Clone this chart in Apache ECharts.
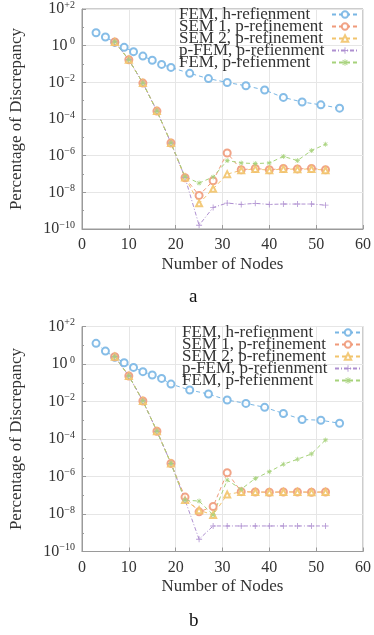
<!DOCTYPE html>
<html>
<head>
<meta charset="utf-8">
<script src="https://cdn.jsdelivr.net/npm/echarts@6/dist/echarts.min.js"></script>
<style>
  html, body { margin: 0; padding: 0; background: #fff; }
  #chart { width: 374px; height: 635px; }
</style>
</head>
<body>
<div id="chart"></div>
<script>
// x positions (number of nodes)
const nodesH = [3, 5, 7, 9, 11, 13, 15, 17, 19, 23, 27, 31, 35, 39, 43, 47, 51, 55];
const nodesP = [7, 10, 13, 16, 19, 22, 25, 28, 31, 34, 37, 40, 43, 46, 49, 52];

// panel a (percentage of discrepancy)
const femHA = [5.1, 2.98, 1.5, 0.81, 0.47, 0.27, 0.16, 0.095, 0.065, 0.031, 0.016, 0.0098, 0.0065, 0.0038, 0.0015, 8.5e-4, 5.9e-4, 3.9e-4];
const sem1A = [1.6, 0.17, 9.1e-3, 2.7e-4, 4.9e-6, 6.2e-8, 6.8e-9, 4.3e-8, 1.4e-6, 1.7e-7, 2.0e-7, 1.7e-7, 2.0e-7, 1.9e-7, 2.0e-7, 1.7e-7];
const sem2A = [1.6, 0.17, 9.1e-3, 2.7e-4, 4.9e-6, 6.5e-8, 2.5e-9, 1.55e-8, 9.8e-8, 1.6e-7, 1.9e-7, 1.6e-7, 1.9e-7, 1.8e-7, 1.9e-7, 1.6e-7];
const pfemA = [1.6, 0.17, 9.1e-3, 2.7e-4, 4.9e-6, 6.5e-8, 1.6e-10, 1.5e-9, 2.6e-9, 2.2e-9, 2.5e-9, 2.2e-9, 2.3e-9, 2.3e-9, 2.3e-9, 2.0e-9];
const femPA = [1.6, 0.17, 9.1e-3, 2.7e-4, 4.9e-6, 7.1e-8, 3.2e-8, 6.9e-8, 5.4e-7, 4.0e-7, 3.7e-7, 4.0e-7, 9.1e-7, 5.4e-7, 1.9e-6, 4.2e-6];

// panel b
const femHB = [12.6, 4.9, 2.3, 1.17, 0.66, 0.39, 0.26, 0.17, 0.085, 0.041, 0.025, 0.012, 0.0079, 0.0049, 0.0023, 0.0011, 0.001, 6.9e-4];
const sem1B = [2.45, 0.23, 0.0107, 2.6e-4, 5.0e-6, 8.0e-8, 1.3e-8, 2.5e-8, 1.6e-6, 1.55e-7, 1.5e-7, 1.45e-7, 1.5e-7, 1.5e-7, 1.45e-7, 1.5e-7];
const sem2B = [2.45, 0.23, 0.0107, 2.6e-4, 5.0e-6, 5.5e-8, 1.6e-8, 8.9e-9, 1.1e-7, 1.5e-7, 1.5e-7, 1.45e-7, 1.5e-7, 1.5e-7, 1.45e-7, 1.5e-7];
const pfemB = [2.45, 0.23, 0.0107, 2.6e-4, 5.0e-6, 5.5e-8, 4.5e-10, 2.3e-9, 2.3e-9, 2.3e-9, 2.3e-9, 2.3e-9, 2.3e-9, 2.3e-9, 2.3e-9, 2.3e-9];
const femPB = [2.45, 0.23, 0.0107, 2.6e-4, 5.0e-6, 5.5e-8, 4.9e-8, 8.9e-9, 6.5e-7, 2.1e-7, 7.9e-7, 1.8e-6, 4.5e-6, 8.3e-6, 1.6e-5, 8.9e-5];

const seriesNames = ['FEM, h-refienment', 'SEM 1, p-refinement', 'SEM 2, p-refinement', 'p-FEM, p-refienment', 'FEM, p-refienment'];

const FONT = '"Liberation Serif", "DejaVu Serif", serif';
const colors = {
  blue: '#79b6e4',
  sem1: '#f09a7a',
  sem2: '#f2c46c',
  pfem: '#ae8fd0',
  femp: '#a6d27a',
  text: '#333',
  grid: '#e6e6e6',
  axis: '#9a9a9a',
};

const plusPath = 'path://M3,0h1v3h3v1h-3v3h-1v-3h-3v-1h3z';
const starPath = 'path://M3,0h1v3h3v1h-3v3h-1v-3h-3v-1h3zM0.6,1.3l0.7,-0.7l5.1,5.1l-0.7,0.7zM5.7,0.6l0.7,0.7l-5.1,5.1l-0.7,-0.7z';

function pts(xs, vals) {
  return xs.map((x, i) => [x, Math.log10(vals[i])]);
}

function yLabel(v) {
  if (v === 0) return '{b|10}{s| 0}';
  const sign = v > 0 ? '+' : '\u2212';
  return '{b|10}{s|' + sign + Math.abs(v) + '}';
}

function makeSeries(idx, sets) {
  const styles = [
    { color: colors.blue, symbol: 'emptyCircle', size: 7, dash: [4, 3] },
    { color: colors.sem1, symbol: 'emptyCircle', size: 7, dash: [4, 3] },
    { color: colors.sem2, symbol: 'emptyTriangle', size: 6, dash: [4, 3] },
    { color: colors.pfem, symbol: plusPath, size: 6, dash: [4, 2, 1, 2] },
    { color: colors.femp, symbol: starPath, size: 5, dash: [4, 3] },
  ];
  return sets.map((s, i) => ({
    name: seriesNames[i],
    type: 'line',
    xAxisIndex: idx,
    yAxisIndex: idx,
    data: pts(s.x, s.v),
    symbol: styles[i].symbol,
    symbolSize: styles[i].size,
    showAllSymbol: true,
    lineStyle: { color: styles[i].color, width: 1, type: styles[i].dash },
    itemStyle: { color: styles[i].color, borderWidth: 1, opacity: 0.9 },
    emphasis: { disabled: true },
    animation: false,
  }));
}

function xAxisFor(grid) {
  return {
    type: 'value', gridIndex: grid, min: 0, max: 60, interval: 10,
    name: 'Number of Nodes', nameLocation: 'middle', nameGap: 27,
    nameTextStyle: { fontFamily: FONT, fontSize: 17, color: colors.text },
    axisLine: { onZero: false, lineStyle: { color: colors.axis } },
    axisTick: { inside: true, length: 4, lineStyle: { color: colors.axis } },
    axisLabel: { fontFamily: FONT, fontSize: 16, color: colors.text, margin: 8 },
    splitLine: { show: true, lineStyle: { color: colors.grid, width: 1 } },
  };
}

function yAxisFor(grid) {
  return {
    type: 'value', gridIndex: grid, min: -10, max: 2, interval: 2,
    name: 'Percentage of Discrepancy', nameLocation: 'middle', nameRotate: 90, nameGap: 57,
    nameTextStyle: { fontFamily: FONT, fontSize: 17, color: colors.text },
    axisLine: { show: true, onZero: false, lineStyle: { color: colors.axis } },
    axisTick: { inside: true, length: 4, lineStyle: { color: colors.axis } },
    minorTick: { show: true, splitNumber: 2, length: 2, lineStyle: { color: colors.axis } },
    axisLabel: {
      margin: 7,
      formatter: yLabel,
      rich: {
        b: { fontFamily: FONT, fontSize: 16, color: colors.text, lineHeight: 18 },
        s: { fontFamily: FONT, fontSize: 10, color: colors.text, verticalAlign: 'top', lineHeight: 10 },
      },
    },
    splitLine: { show: true, lineStyle: { color: colors.grid, width: 1 } },
  };
}

function legendFor(left, top) {
  return {
    left: left, top: top, orient: 'vertical', align: 'right',
    data: seriesNames, itemGap: -5, itemWidth: 26, itemHeight: 8,
    selectedMode: false,
    formatter: (name) => '{t|' + name + '}',
    textStyle: {
      rich: {
        t: {
          fontFamily: FONT, fontSize: 17, color: colors.text,
          width: 148, align: 'left', lineHeight: 12.6,
        },
      },
    },
  };
}

const chart = echarts.init(document.getElementById('chart'), null, { renderer: 'canvas' });

chart.setOption({
  backgroundColor: '#fff',
  animation: false,
  title: [
    { text: 'a', left: 184, top: 283, textStyle: { fontFamily: FONT, fontSize: 19, fontWeight: 'normal', color: '#111' } },
    { text: 'b', left: 184, top: 607, textStyle: { fontFamily: FONT, fontSize: 19, fontWeight: 'normal', color: '#111' } },
  ],
  grid: [
    { left: 81, top: 4, width: 282, height: 225, show: true, borderColor: colors.axis, borderWidth: 1 },
    { left: 80, top: 326.5, width: 288, height: 225, show: true, borderColor: colors.axis, borderWidth: 1 },
  ],
  legend: [legendFor(174, 1), legendFor(177, 319)],
  xAxis: [xAxisFor(0), xAxisFor(1)],
  yAxis: [yAxisFor(0), yAxisFor(1)],
  series: [
    ...makeSeries(0, [
      { x: nodesH, v: femHA }, { x: nodesP, v: sem1A }, { x: nodesP, v: sem2A },
      { x: nodesP, v: pfemA }, { x: nodesP, v: femPA },
    ]),
    ...makeSeries(1, [
      { x: nodesH, v: femHB }, { x: nodesP, v: sem1B }, { x: nodesP, v: sem2B },
      { x: nodesP, v: pfemB }, { x: nodesP, v: femPB },
    ]),
  ],
});
</script>
</body>
</html>
